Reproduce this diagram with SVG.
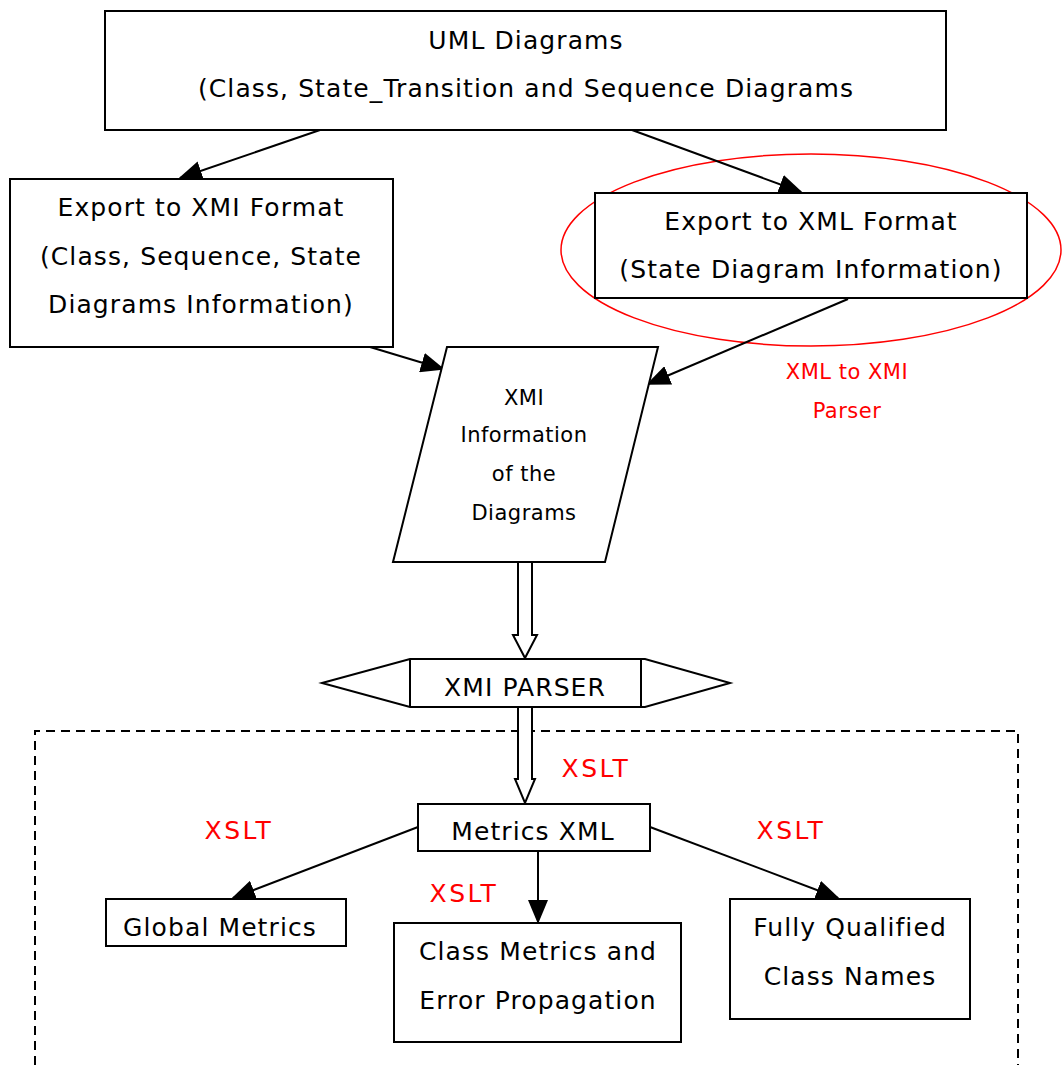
<svg xmlns="http://www.w3.org/2000/svg" width="1062" height="1065" viewBox="0 0 1062 1065">
  <style>
    .box { fill: #fff; stroke: #000; stroke-width: 2; }
    .lbl { font-family: "DejaVu Sans", Verdana, sans-serif; font-size: 25px; letter-spacing: 1.1px; fill: #000; text-anchor: middle; }
    .sm { font-size: 21px; letter-spacing: 0.5px; }
    .red { fill: #ff0000; }
    .xslt { letter-spacing: 2.5px; }
    .edge { stroke: #000; stroke-width: 2; fill: none; }
    .hollow { fill: #fff; stroke: #000; stroke-width: 2; }
  </style>
  <defs>
    <marker id="arr" markerUnits="userSpaceOnUse" markerWidth="24" markerHeight="20" refX="22" refY="10" orient="auto">
      <path d="M0,0 L24,10 L0,20 Z" fill="#000"/>
    </marker>
  </defs>
  <rect width="1062" height="1065" fill="#fff"/>

  <!-- dashed frame around the metrics stage -->
  <path d="M35,1065 V731 H1018 V1065" fill="none" stroke="#000" stroke-width="2" stroke-dasharray="9,6"/>

  <!-- highlight ellipse around the XML export step -->
  <ellipse cx="811" cy="250" rx="250" ry="96" fill="none" stroke="#ff0000" stroke-width="1.5"/>

  <g id="connectors">
    <line class="edge" x1="320" y1="130" x2="180" y2="178" marker-end="url(#arr)"/>
    <line class="edge" x1="632" y1="130" x2="801" y2="192" marker-end="url(#arr)"/>
    <line class="edge" x1="370" y1="347" x2="443" y2="369" marker-end="url(#arr)"/>
    <line class="edge" x1="848" y1="299" x2="648" y2="384" marker-end="url(#arr)"/>
    <!-- block arrows into and out of the parser -->
    <path class="hollow" d="M518,562 V635 H513 L525,658 L537,635 H532 V562 Z"/>
    <path class="hollow" d="M518,707 V779 H515 L525,803 L535,779 H532 V707 Z"/>
    <line class="edge" x1="418" y1="827" x2="233" y2="898" marker-end="url(#arr)"/>
    <line class="edge" x1="538" y1="851" x2="538" y2="922" marker-end="url(#arr)"/>
    <line class="edge" x1="650" y1="827" x2="838" y2="898" marker-end="url(#arr)"/>
  </g>

  <g id="uml">
    <rect class="box" x="105" y="11" width="841" height="119"/>
    <text class="lbl" x="526" y="49">UML Diagrams</text>
    <text class="lbl" x="526" y="97">(Class, State_Transition and Sequence Diagrams</text>
  </g>

  <g id="export-xmi">
    <rect class="box" x="10" y="179" width="383" height="168"/>
    <text class="lbl" x="201" y="216">Export to XMI Format</text>
    <text class="lbl" x="201" y="265">(Class, Sequence, State</text>
    <text class="lbl" x="201" y="313">Diagrams Information)</text>
  </g>

  <g id="export-xml">
    <rect class="box" x="595" y="193" width="432" height="105"/>
    <text class="lbl" x="811" y="230">Export to XML Format</text>
    <text class="lbl" x="811" y="278">(State Diagram Information)</text>
  </g>

  <g id="xml-to-xmi">
    <text class="lbl sm red" x="847" y="379">XML to XMI</text>
    <text class="lbl sm red" x="847" y="418">Parser</text>
  </g>

  <g id="xmi-info">
    <polygon class="box" points="447,347 658,347 605,562 393,562"/>
    <text class="lbl sm" x="524" y="405">XMI</text>
    <text class="lbl sm" x="524" y="442">Information</text>
    <text class="lbl sm" x="524" y="481">of the</text>
    <text class="lbl sm" x="524" y="520">Diagrams</text>
  </g>

  <g id="xmi-parser">
    <polygon class="box" points="322,683 410,659 645,659 730,683 645,707 410,707"/>
    <line class="edge" x1="410" y1="659" x2="410" y2="707"/>
    <line class="edge" x1="641" y1="659" x2="641" y2="707"/>
    <text class="lbl" x="525" y="696">XMI PARSER</text>
  </g>

  <g id="xslt-labels">
    <text class="lbl red xslt" x="596" y="777">XSLT</text>
    <text class="lbl red xslt" x="239" y="839">XSLT</text>
    <text class="lbl red xslt" x="791" y="839">XSLT</text>
    <text class="lbl red xslt" x="464" y="902">XSLT</text>
  </g>

  <g id="metrics-xml">
    <rect class="box" x="418" y="804" width="232" height="47"/>
    <text class="lbl" x="533" y="840">Metrics XML</text>
  </g>

  <g id="global-metrics">
    <rect class="box" x="106" y="899" width="240" height="47"/>
    <text class="lbl" x="220" y="936">Global Metrics</text>
  </g>

  <g id="class-metrics">
    <rect class="box" x="394" y="923" width="287" height="119"/>
    <text class="lbl" x="538" y="960">Class Metrics and</text>
    <text class="lbl" x="538" y="1009">Error Propagation</text>
  </g>

  <g id="qualified-names">
    <rect class="box" x="730" y="899" width="240" height="120"/>
    <text class="lbl" x="850" y="936">Fully Qualified</text>
    <text class="lbl" x="850" y="985">Class Names</text>
  </g>
</svg>
